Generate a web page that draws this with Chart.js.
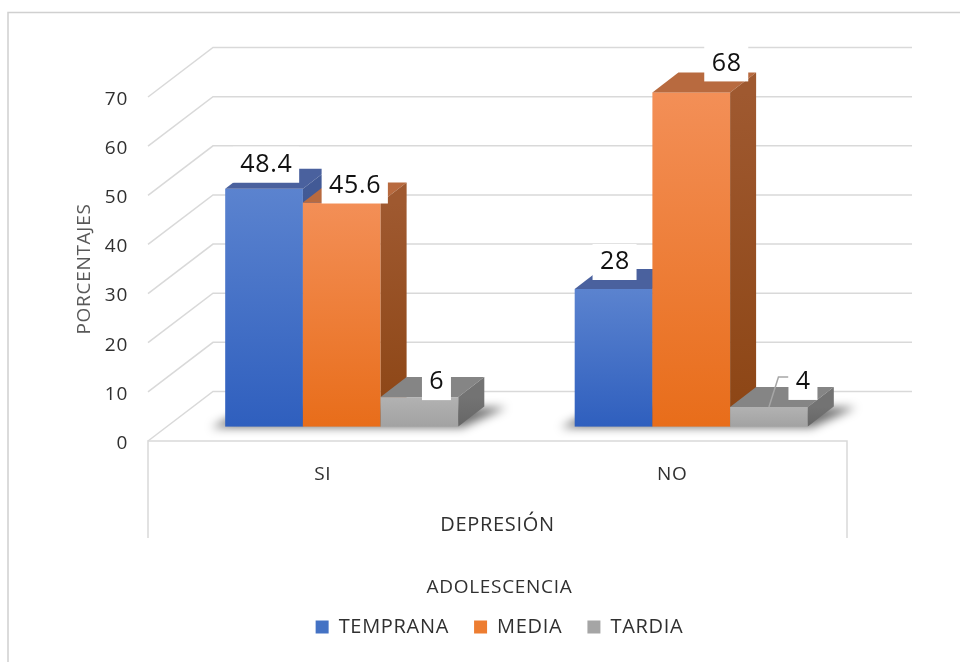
<!DOCTYPE html>
<html>
<head>
<meta charset="utf-8">
<script src="https://cdn.jsdelivr.net/npm/chart.js@4.4.1/dist/chart.umd.min.js"></script>
<style>
html, body { margin: 0; padding: 0; background: #fff; }
#grafica { display: block; }
</style>
</head>
<body>
<canvas id="grafica" width="960" height="662"></canvas>
<script>
// datos del grafico
var categorias = ["SI", "NO"];
var nombresSeries = ["TEMPRANA", "MEDIA", "TARDIA"];
var temprana = [48.4, 28];
var media = [45.6, 68];
var tardia = [6, 4];
var ticksY = [0, 10, 20, 30, 40, 50, 60, 70];

// colores base (leyenda) y caras 3d
var coloresBase = ["#4472c4", "#ed7d31", "#a5a5a5"];
var caras = [
  {frente: ["#5b83cf", "#2f5fbe"], tapa: "#4a619e", lado: ["#425a96", "#2c4a8c"]},
  {frente: ["#f38f57", "#e86d1a"], tapa: "#b86a3f", lado: ["#9f5930", "#8c4514"]},
  {frente: ["#b2b2b2", "#a2a2a2"], tapa: "#858585", lado: ["#737373", "#666666"]}
];

// perspectiva: plano frontal de las barras, profundidad de barra y pared del fondo
var prof = {x0: 19, y0: -14.4, dx: 26, dy: -20};
var fondo = {dx: 65, dy: -49.5};

// ajustes manuales de las etiquetas (como en el original)
var etiquetas = {
  desplaz: [[[-11, -4], [-12, -7]], [[0, 3], [22, -9]], [[4, 5], [21, -5]]],
  guia: [[false, false], [false, false], [false, true]]
};

var textoOscuro = "#303030";
var espaciado = "0.7px";
Chart.defaults.font.family = "'Open Sans', sans-serif";
Chart.defaults.font.size = 19;
Chart.defaults.color = textoOscuro;

function poligono(ctx, pts, relleno) {
  ctx.beginPath();
  ctx.moveTo(pts[0][0], pts[0][1]);
  for (var i = 1; i < pts.length; i++) ctx.lineTo(pts[i][0], pts[i][1]);
  ctx.closePath();
  ctx.fillStyle = relleno;
  ctx.fill();
}

var barras3d = {
  id: "barras3d",
  beforeUpdate: function (chart) {
    chart.ctx.letterSpacing = espaciado;
  },
  beforeDraw: function (chart) {
    var ctx = chart.ctx;
    ctx.letterSpacing = espaciado;
    ctx.save();
    ctx.fillStyle = "#fff";
    ctx.fillRect(0, 0, chart.width, chart.height);
    ctx.strokeStyle = "#d0d0d0";
    ctx.lineWidth = 1.5;
    ctx.strokeRect(8, 12.5, chart.width, chart.height);
    ctx.restore();
  },
  afterLayout: function (chart) {
    // centrar la leyenda como en excel
    chart.legend.left += 76;
    chart.legend.right += 76;
  },
  beforeDatasetsDraw: function (chart) {
    var ctx = chart.ctx, a = chart.chartArea, y = chart.scales.y, x = chart.scales.x;
    ctx.save();
    ctx.strokeStyle = "#d9d9d9";
    ctx.lineWidth = 1.5;
    ticksY.forEach(function (v) {
      var yf = y.getPixelForValue(v);
      ctx.beginPath();
      ctx.moveTo(a.left, yf);
      ctx.lineTo(a.left + fondo.dx, yf + fondo.dy);
      ctx.lineTo(a.right + fondo.dx, yf + fondo.dy);
      ctx.stroke();
    });
    // borde del piso y caja del eje de categorias
    ctx.beginPath();
    ctx.moveTo(a.left, x.bottom);
    ctx.lineTo(a.left, a.bottom);
    ctx.lineTo(a.right, a.bottom);
    ctx.lineTo(a.right, x.bottom);
    ctx.stroke();
    ctx.restore();
  },
  beforeDatasetDraw: function () {
    return false;
  },
  afterDatasetsDraw: function (chart) {
    var ctx = chart.ctx;
    var nd = chart.data.datasets.length;
    ctx.save();

    // sombras en el piso
    chart.data.labels.forEach(function (c, i) {
      var e1 = chart.getDatasetMeta(0).data[i];
      var e2 = chart.getDatasetMeta(nd - 1).data[i];
      var xl = e1.x - e1.width / 2 + prof.x0;
      var xr = e2.x + e2.width / 2 + prof.x0;
      var yb = e1.base + prof.y0;
      ctx.save();
      ctx.filter = "blur(5px)";
      poligono(ctx, [[xl - 14, yb + 1], [xr + 4, yb + 1], [xr + prof.dx + 22, yb + prof.dy + 1], [xl + prof.dx, yb + prof.dy]], "rgba(0,0,0,0.55)");
      ctx.restore();
    });

    // cajas 3d
    chart.data.labels.forEach(function (c, i) {
      chart.data.datasets.forEach(function (ds, d) {
        var el = chart.getDatasetMeta(d).data[i];
        var st = caras[d];
        var x1 = el.x - el.width / 2 + prof.x0, x2 = el.x + el.width / 2 + prof.x0;
        var yt = el.y + prof.y0, yb = el.base + prof.y0;
        var g = ctx.createLinearGradient(0, yt, 0, yb);
        g.addColorStop(0, st.frente[0]);
        g.addColorStop(1, st.frente[1]);
        ctx.fillStyle = g;
        ctx.fillRect(x1, yt, x2 - x1, yb - yt);
        poligono(ctx, [[x1, yt], [x1 + prof.dx, yt + prof.dy], [x2 + prof.dx, yt + prof.dy], [x2, yt]], st.tapa);
        var gl = ctx.createLinearGradient(0, yt, 0, yb);
        gl.addColorStop(0, st.lado[0]);
        gl.addColorStop(1, st.lado[1]);
        poligono(ctx, [[x2, yt], [x2 + prof.dx, yt + prof.dy], [x2 + prof.dx, yb + prof.dy], [x2, yb]], gl);
      });
    });

    // etiquetas de datos
    ctx.font = "25px 'Open Sans', sans-serif";
    ctx.textAlign = "center";
    ctx.textBaseline = "middle";
    chart.data.datasets.forEach(function (ds, d) {
      chart.getDatasetMeta(d).data.forEach(function (el, i) {
        var txt = String(ds.data[i]);
        var w = ctx.measureText(txt).width + 14, h = 36;
        var sh = etiquetas.desplaz[d][i];
        var cx = el.x + prof.x0 + prof.dx / 2 + sh[0];
        var cy = el.y + prof.y0 + prof.dy / 2 - 10 + sh[1];
        if (etiquetas.guia[d][i]) {
          ctx.strokeStyle = "#a6a6a6";
          ctx.lineWidth = 1.5;
          ctx.beginPath();
          ctx.moveTo(cx - w / 2, cy - 5);
          ctx.lineTo(cx - w / 2 - 10, cy - 5);
          ctx.lineTo(el.x + prof.x0, el.y + prof.y0);
          ctx.stroke();
        }
        ctx.fillStyle = "#fff";
        ctx.fillRect(cx - w / 2, cy - h / 2, w, h);
        ctx.fillStyle = "#111";
        ctx.fillText(txt, cx + 0.4, cy);
      });
    });
    ctx.restore();
  }
};

new Chart(document.getElementById("grafica"), {
  type: "bar",
  data: {
    labels: categorias,
    datasets: [
      {label: nombresSeries[0], data: temprana, backgroundColor: coloresBase[0]},
      {label: nombresSeries[1], data: media, backgroundColor: coloresBase[1]},
      {label: nombresSeries[2], data: tardia, backgroundColor: coloresBase[2]}
    ]
  },
  options: {
    responsive: false,
    animation: false,
    layout: {padding: {top: 97, right: 113, bottom: 15, left: 0}},
    datasets: {bar: {categoryPercentage: 0.667, barPercentage: 1}},
    plugins: {
      tooltip: {enabled: false},
      legend: {
        position: "bottom",
        title: {display: true, text: "ADOLESCENCIA", color: textoOscuro, font: {size: 19, lineHeight: 1}, padding: {top: 40, bottom: -5}},
        labels: {boxWidth: 13, boxHeight: 13, padding: 25, color: textoOscuro, font: {size: 20}}
      }
    },
    scales: {
      x: {
        grid: {display: false, drawTicks: false},
        border: {display: false},
        ticks: {padding: 22, color: textoOscuro},
        title: {display: true, text: "DEPRESIÓN", color: textoOscuro, font: {size: 20}, padding: {top: 0, bottom: 1}},
        afterFit: function (s) { s.height = 97; }
      },
      y: {
        min: 0,
        max: 70,
        afterBuildTicks: function (s) { s.ticks = ticksY.map(function (v) { return {value: v}; }); },
        grid: {display: false, drawTicks: false},
        border: {display: false},
        ticks: {padding: 20, labelOffset: 2.5, color: textoOscuro},
        title: {display: true, text: "PORCENTAJES", color: "#595959", padding: {top: 73.6, bottom: 0}},
        afterFit: function (s) { s.width = 148; }
      }
    }
  },
  plugins: [barras3d]
});
</script>
</body>
</html>
